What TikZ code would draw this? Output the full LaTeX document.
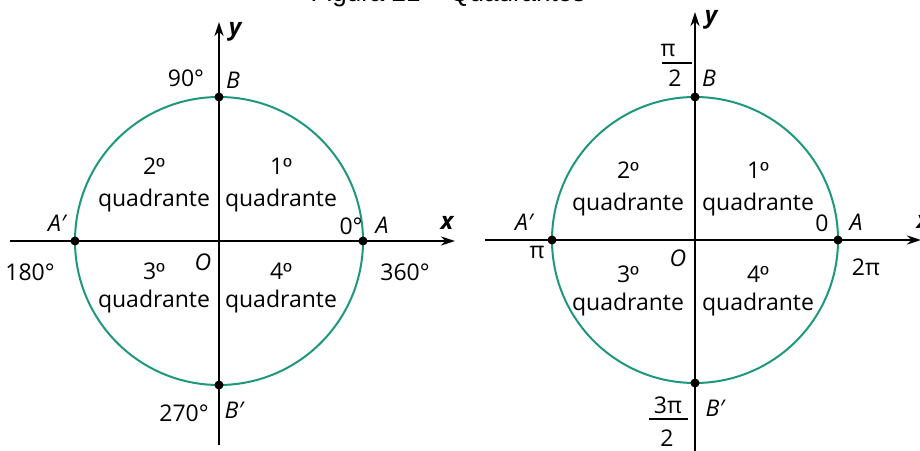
\documentclass[tikz,border=0pt]{standalone}
\usepackage{fontspec}
\setmainfont{Open Sans}
\newfontfamily\titlefont{Liberation Sans}
\newcommand{\ordm}{{\titlefont º}}
\usetikzlibrary{arrows.meta, positioning}
\definecolor{circlegreen}{RGB}{30,152,125}

\begin{document}
\begin{tikzpicture}[
    x=1pt, y=1pt,
    >={Stealth[length=14pt, width=9pt]},
    axis/.style={->, line width=2.4pt},
    unitcircle/.style={circlegreen, line width=2pt},
    dot/.style={circle, fill, inner sep=0pt, minimum size=9pt},
    lbl/.style={inner sep=0pt, align=center, font=\fontsize{23}{28}\selectfont},
    ptlbl/.style={lbl, font=\fontsize{23}{28}\selectfont\itshape},
    axislbl/.style={lbl, font=\fontsize{24}{28}\selectfont\bfseries\itshape},
    fracbar/.style={fill, inner sep=0pt, minimum height=2.2pt},
]
    \useasboundingbox (0,0) rectangle (920,450);
    \node[anchor=base, inner sep=0pt, font=\titlefont\fontsize{26}{30}\selectfont] (title) at (448,448) {Figura 21 – Quadrantes};

    \begin{scope}[shift={(219,209)}]
        \coordinate (O1) at (0,0);
        \coordinate (xs1) at (-209,0);
        \coordinate (xe1) at (236,0);
        \coordinate (ys1) at (0,-204);
        \coordinate (ye1) at (0,219);
        \draw[unitcircle] (O1) circle (144);
        \draw[axis] (xs1) -- (xe1);
        \draw[axis] (ys1) -- (ye1);
        \node[dot] (A1) at (144,0) {};
        \node[dot] (B1) at (0,144) {};
        \node[dot] (Ap1) at (-144,0) {};
        \node[dot] (Bp1) at (0,-144) {};
        \node[axislbl] (ylbl1) at (16,209) {y};
        \node[axislbl] (xlbl1) at (228,18) {x};
        \node[lbl] (deg90) at (-33,163) {90°};
        \node[ptlbl] (Blbl1) at (14,161) {B};
        \node[lbl] (q2a) at (-65,56) {2\ordm\\[4pt]quadrante};
        \node[lbl] (q1a) at (62,56) {1\ordm\\[4pt]quadrante};
        \node[ptlbl] (Aplbl1) at (-162,18) {A′};
        \node[lbl] (deg0) at (132,15) {0°};
        \node[ptlbl] (Albl1) at (163,16) {A};
        \node[lbl] (deg180) at (-189,-31) {180°};
        \node[ptlbl] (Olbl1) at (-16,-21) {O};
        \node[lbl] (q3a) at (-65,-47) {3\ordm\\quadrante};
        \node[lbl] (q4a) at (62,-47) {4\ordm\\quadrante};
        \node[lbl] (deg360) at (186,-31) {360°};
        \node[lbl] (deg270) at (-35,-172) {270°};
        \node[ptlbl] (Bplbl1) at (15,-169) {B′};
    \end{scope}

    \begin{scope}[shift={(695,210)}]
        \coordinate (O2) at (0,0);
        \coordinate (xs2) at (-210,0);
        \coordinate (xe2) at (226,0);
        \coordinate (ys2) at (0,-215);
        \coordinate (ye2) at (0,228);
        \draw[unitcircle] (O2) circle (143);
        \draw[axis] (xs2) -- (xe2);
        \draw[axis] (ys2) -- (ye2);
        \node[dot] (A2) at (143,0) {};
        \node[dot] (B2) at (0,143) {};
        \node[dot] (Ap2) at (-143,0) {};
        \node[dot] (Bp2) at (0,-143) {};
        \node[axislbl] (ylbl2) at (16,220) {y};
        \node[axislbl] (xlbl2) at (228,18) {x};
        \node[lbl] (pinum) at (-27,190) {π};
        \node[fracbar, minimum width=30pt] (halfbar) at (-18,177) {};
        \node[lbl] (pihalfden) at (-20,162) {2};
        \node[ptlbl] (Blbl2) at (14,162) {B};
        \node[lbl] (q2b) at (-67,51) {2\ordm\\[4pt]quadrante};
        \node[lbl] (q1b) at (63,51) {1\ordm\\[4pt]quadrante};
        \node[ptlbl] (Aplbl2) at (-171,18) {A′};
        \node[lbl] (rad0) at (127,17) {0};
        \node[ptlbl] (Albl2) at (161,18) {A};
        \node[lbl] (radpi) at (-158,-12) {π};
        \node[ptlbl] (Olbl2) at (-17,-18) {O};
        \node[lbl] (q3b) at (-67,-51) {3\ordm\\quadrante};
        \node[lbl] (q4b) at (63,-51) {4\ordm\\quadrante};
        \node[lbl] (rad2pi) at (171,-27) {2π};
        \node[lbl] (threepinum) at (-27,-165) {3π};
        \node[fracbar, minimum width=39pt] (threehalfbar) at (-27,-179) {};
        \node[lbl] (threehalfden) at (-28,-198) {2};
        \node[ptlbl] (Bplbl2) at (20,-168) {B′};
    \end{scope}
\end{tikzpicture}
\end{document}
